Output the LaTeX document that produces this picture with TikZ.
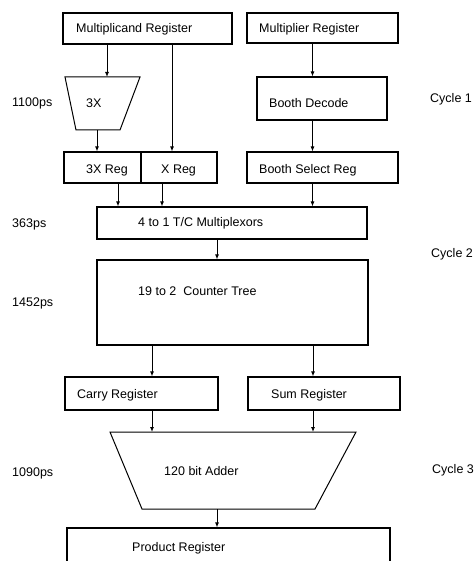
\documentclass[tikz,border=0pt]{standalone}
\usepackage{fontspec}
\setmainfont{Liberation Sans}
\usetikzlibrary{arrows.meta}

\begin{document}
\begin{tikzpicture}[x=1pt,y=-1pt,
  font=\fontsize{12.5}{14}\selectfont,
  regbox/.style={draw,line width=1.2pt,inner sep=0pt},
  txt/.style={anchor=west,inner sep=0pt},
  arr/.style={line width=0.9pt,-{Latex[length=5pt,width=4pt]}}]
\useasboundingbox (0,0) rectangle (473,561);
\node[regbox,minimum width=169,minimum height=31] (mcand) at (147.5,28.5) {};
\node[regbox,minimum width=151,minimum height=30] (mplier) at (322.5,28) {};
\node[regbox,minimum width=130,minimum height=43] (booth) at (322,98.5) {};
\node[regbox,minimum width=77,minimum height=31] (reg3x) at (102.5,167.5) {};
\node[regbox,minimum width=76,minimum height=31] (regx) at (179,167.5) {};
\node[regbox,minimum width=151,minimum height=31] (bsel) at (322.5,167.5) {};
\node[regbox,minimum width=270,minimum height=32] (mux) at (232,223) {};
\node[regbox,minimum width=271,minimum height=85] (tree) at (232.5,302.5) {};
\node[regbox,minimum width=153,minimum height=33] (carry) at (141.5,393.5) {};
\node[regbox,minimum width=152,minimum height=33] (sum) at (324,393.5) {};
\node[regbox,minimum width=323,minimum height=50] (prod) at (228.5,553) {};
\draw[line width=1pt] (65,77) -- (140,77) -- (120,130) -- (76,130) -- cycle;
\draw[line width=1pt] (110,432) -- (356,432) -- (315,509) -- (142,509) -- cycle;
\coordinate (t3in) at (107,77);
\coordinate (t3out) at (97,130);
\coordinate (addc) at (152,432);
\coordinate (adds) at (313,432);
\coordinate (addout) at (217,509);
\coordinate (colx) at (172,0);
\coordinate (colb) at (312.5,0);
\coordinate (col3) at (118,0);
\coordinate (colm) at (162,0);
\coordinate (colt) at (217,0);
\node[txt] at (76,29) {Multiplicand Register};
\node[txt] at (259,29) {Multiplier Register};
\node[txt] at (86,103) {3X};
\node[txt] at (269,103) {Booth Decode};
\node[txt] at (86,170) {3X Reg};
\node[txt] at (161,170) {X Reg};
\node[txt] at (259,170) {Booth Select Reg};
\node[txt] at (138,223) {4 to 1 T/C Multiplexors};
\node[txt] at (138,291) {19 to 2\ \ Counter Tree};
\node[txt] at (77,395) {Carry Register};
\node[txt] at (271,395) {Sum Register};
\node[txt] at (164,471) {120 bit Adder};
\node[txt] at (132,548) {Product Register};
\node[txt] at (12,103) {1100ps};
\node[txt] at (12,224) {363ps};
\node[txt] at (12,303) {1452ps};
\node[txt] at (12,473) {1090ps};
\node[txt] at (430,99) {Cycle 1};
\node[txt] at (431,254) {Cycle 2};
\node[txt] at (432,470) {Cycle 3};
\draw[arr] (mcand.south -| t3in) -- (t3in);
\draw[arr] (mcand.south -| colx) -- (regx.north -| colx);
\draw[arr] (mplier.south -| colb) -- (booth.north -| colb);
\draw[arr] (booth.south -| colb) -- (bsel.north -| colb);
\draw[arr] (t3out) -- (reg3x.north -| t3out);
\draw[arr] (reg3x.south -| col3) -- (mux.north -| col3);
\draw[arr] (regx.south -| colm) -- (mux.north -| colm);
\draw[arr] (bsel.south -| colb) -- (mux.north -| colb);
\draw[arr] (mux.south -| colt) -- (tree.north -| colt);
\draw[arr] (tree.south -| addc) -- (carry.north -| addc);
\draw[arr] (tree.south -| adds) -- (sum.north -| adds);
\draw[arr] (carry.south -| addc) -- (addc);
\draw[arr] (sum.south -| adds) -- (adds);
\draw[arr] (addout) -- (prod.north -| addout);
\end{tikzpicture}
\end{document}
